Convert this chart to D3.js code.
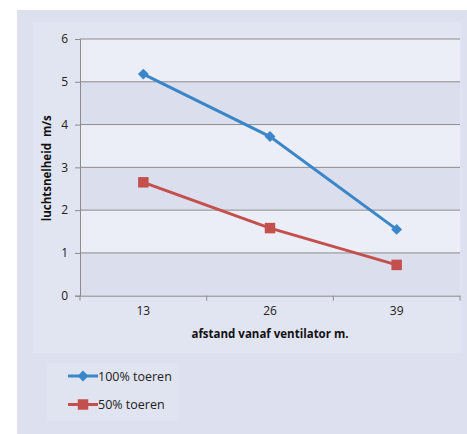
<!DOCTYPE html>
<html><head><meta charset="utf-8">
<script src="https://cdn.jsdelivr.net/npm/d3@7"></script>
<style>body{margin:0;background:#fff;} svg{display:block;font-family:"Open Sans",sans-serif;}</style>
</head><body>
<svg id="c" width="467" height="434"></svg>
<script>
const categories = ["13","26","39"];
const series100 = [5.18, 3.72, 1.55];
const series50 = [2.65, 1.58, 0.72];
const yTicks = [0,1,2,3,4,5,6];
const seriesNames = ["100% toeren","50% toeren"];
const xTitle = "afstand vanaf ventilator m.";
const yTitle = "luchtsnelheid  m/s";

const svg = d3.select("#c");
svg.append("rect").attr("x",17).attr("y",10).attr("width",450).attr("height",424).attr("fill","#dde1ef");
svg.append("rect").attr("x",33).attr("y",22).attr("width",428).attr("height",331).attr("fill","#e1e4f1");

const L=80,R=460,T=39,B=295.7;
const x = d3.scaleBand().domain(categories).range([L,R]);
const y = d3.scaleLinear().domain([0,6]).range([B,T]);

for(let i=0;i<6;i++){
  svg.append("rect").attr("x",L).attr("width",R-L)
    .attr("y",y(i+1)).attr("height",y(i)-y(i+1))
    .attr("fill", i%2===0 ? "#dadeed" : "#eceef7");
}
svg.append("g").selectAll("line").data(yTicks.slice(1)).join("line")
  .attr("x1",L).attr("x2",R).attr("y1",d=>y(d)).attr("y2",d=>y(d))
  .attr("stroke","#8c8c8c").attr("stroke-width",1);

const ya = svg.append("g").attr("transform",`translate(${L},0)`)
  .call(d3.axisLeft(y).tickValues(yTicks).tickFormat(d3.format("d")).tickSize(5).tickPadding(7));
ya.select(".domain").attr("stroke","#8c8c8c");
ya.selectAll(".tick line").attr("stroke","#8c8c8c");
ya.selectAll("text").attr("font-size",12).attr("fill","#222").attr("font-family","Open Sans");

const xa = svg.append("g").attr("transform",`translate(0,${B})`)
  .call(d3.axisBottom(x).tickSize(0).tickPadding(11));
xa.select(".domain").attr("stroke","#8c8c8c");
xa.selectAll("text").attr("font-size",12).attr("fill","#222").attr("font-family","Open Sans");
const bounds = [L, ...categories.map(c=>x(c)+x.bandwidth())];
svg.append("g").selectAll("line").data(bounds).join("line")
  .attr("x1",d=>d).attr("x2",d=>d).attr("y1",B).attr("y2",B+5).attr("stroke","#8c8c8c");

svg.append("text").attr("x",(L+R)/2).attr("y",338).attr("text-anchor","middle")
  .attr("font-size",11.5).attr("font-weight","bold").attr("fill","#111").text(xTitle);
svg.append("text").attr("transform",`translate(51,${(T+B)/2 + 1}) rotate(-90)`).attr("text-anchor","middle")
  .attr("font-size",11.5).attr("font-weight","bold").attr("fill","#111").style("white-space","pre").text(yTitle);

const cx = c=>x(c)+x.bandwidth()/2;
const line = d3.line().x((d,i)=>cx(categories[i])).y(d=>y(d));
const blue="#3a86c8", red="#c4504d";
svg.append("path").datum(series100).attr("d",line).attr("fill","none").attr("stroke",blue).attr("stroke-width",3);
svg.append("path").datum(series50).attr("d",line).attr("fill","none").attr("stroke",red).attr("stroke-width",3);
const diamond = d3.symbol().type(d3.symbolDiamond2).size(75);
const square = d3.symbol().type(d3.symbolSquare).size(110);
svg.append("g").selectAll("path").data(series100).join("path")
  .attr("transform",(d,i)=>`translate(${cx(categories[i])},${y(d)})`).attr("d",diamond).attr("fill",blue);
svg.append("g").selectAll("path").data(series50).join("path")
  .attr("transform",(d,i)=>`translate(${cx(categories[i])},${y(d)})`).attr("d",square).attr("fill",red);

svg.append("rect").attr("x",47).attr("y",363).attr("width",131).attr("height",58).attr("fill","#e0e3f0");
const lg = svg.append("g");
[[blue,diamond],[red,square]].forEach(([col,sym],i)=>{
  const ly = 376 + i*28.5;
  lg.append("line").attr("x1",68).attr("x2",98).attr("y1",ly).attr("y2",ly).attr("stroke",col).attr("stroke-width",3);
  lg.append("path").attr("transform",`translate(83,${ly})`).attr("d",sym).attr("fill",col);
  lg.append("text").attr("x",98).attr("y",ly+4.5).attr("font-size",12.5).attr("fill","#222").text(seriesNames[i]);
});
</script>
</body></html>
